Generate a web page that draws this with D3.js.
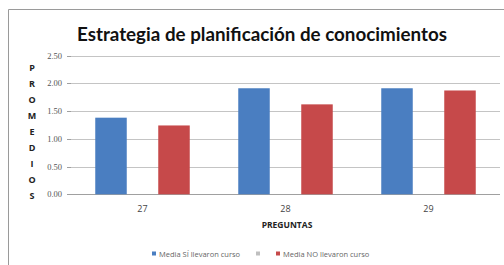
<!DOCTYPE html>
<html><head><meta charset="utf-8">
<script src="https://cdn.jsdelivr.net/npm/d3@7"></script>
<style>body{margin:0;background:#fff}svg{display:block}</style>
</head><body>
<svg id="c" width="504" height="265"></svg>
<script>
const categories = ["27", "28", "29"];
const seriesNames = ["Media SÍ llevaron curso", "", "Media NO llevaron curso"];
const siValues = [1.38, 1.91, 1.91];
const blankValues = [null, null, null];
const noValues = [1.24, 1.62, 1.87];
const yTicks = [0, 0.5, 1, 1.5, 2, 2.5];
const colors = ["#4A7EC1", "#BFBFBF", "#C6494A"];

(function () {
const svg = d3.select("#c");
svg.append("rect").attr("x", 0).attr("y", 0).attr("width", 504).attr("height", 265).attr("fill", "#fff");
svg.append("path").attr("d", "M8.5,265 V9.5 H504").attr("fill", "none").attr("stroke", "#9a9a9a").attr("stroke-width", 1);

const pLeft = 71, pRight = 500, pTop = 55.5, pBottom = 194.3;
const x0 = d3.scaleBand().domain(categories).range([pLeft, pRight]);
const x1 = d3.scaleBand().domain([0, 1, 2]).range([0, x0.bandwidth()]).paddingOuter(0.77).paddingInner(0);
const y = d3.scaleLinear().domain([0, 2.5]).range([pBottom, pTop]);

// gridlines
svg.append("g").selectAll("line").data(yTicks).join("line")
  .attr("x1", pLeft).attr("x2", pRight)
  .attr("y1", d => Math.round(y(d)) + 0.5).attr("y2", d => Math.round(y(d)) + 0.5)
  .attr("stroke", d => d === 0 ? "#a0a0a0" : "#c4c4c4").attr("stroke-width", 1);

// y tick labels
svg.append("g").selectAll("text").data(yTicks).join("text")
  .attr("x", 62).attr("y", d => y(d) + 3)
  .attr("text-anchor", "end")
  .attr("font-family", "Liberation Serif, serif").attr("font-size", 8.5).attr("fill", "#555")
  .text(d3.format(".2f"));
svg.append("g").selectAll("line").data(yTicks).join("line")
  .attr("x1", 67).attr("x2", pLeft)
  .attr("y1", d => Math.round(y(d)) + 0.5).attr("y2", d => Math.round(y(d)) + 0.5)
  .attr("stroke", "#a0a0a0");

// bars
const series = [siValues, blankValues, noValues];
categories.forEach((c, i) => {
  series.forEach((vals, s) => {
    const v = vals[i];
    if (v == null) return;
    svg.append("rect")
      .attr("x", x0(c) + x1(s)).attr("width", x1.bandwidth())
      .attr("y", y(v)).attr("height", y(0) - y(v))
      .attr("fill", colors[s]);
  });
});

// x labels
svg.append("g").selectAll("text").data(categories).join("text")
  .attr("x", d => x0(d) + x0.bandwidth() / 2).attr("y", 212)
  .attr("text-anchor", "middle")
  .attr("font-family", "Open Sans, sans-serif").attr("font-size", 9).attr("fill", "#444")
  .text(d => d);

svg.append("text").attr("x", 287).attr("y", 228).attr("text-anchor", "middle")
  .attr("font-family", "Open Sans, sans-serif").attr("font-weight", "bold").attr("font-size", 8.5).attr("fill", "#222")
  .text("PREGUNTAS");

// y label stacked
const yLabel = "PROMEDIOS".split("");
svg.append("g").selectAll("text").data(yLabel).join("text")
  .attr("x", 32).attr("y", (d, i) => 71 + i * 16)
  .attr("text-anchor", "middle")
  .attr("font-family", "Open Sans, sans-serif").attr("font-weight", "bold").attr("font-size", 9).attr("fill", "#222")
  .text(d => d);

// title
svg.append("text").attr("x", 262).attr("y", 41).attr("text-anchor", "middle")
  .attr("font-family", "Lato, sans-serif").attr("font-weight", "bold").attr("font-size", 19).attr("fill", "#111")
  .attr("textLength", 370).attr("lengthAdjust", "spacingAndGlyphs")
  .text("Estrategia de planificación de conocimientos");

// legend
const legendX = [152, 256, 276];
const lg = svg.append("g");
seriesNames.forEach((n, i) => {
  lg.append("rect").attr("x", legendX[i]).attr("y", 251.5).attr("width", 4).attr("height", 4).attr("fill", colors[i]);
  if (n) lg.append("text").attr("x", legendX[i] + 7).attr("y", 256.5)
    .attr("font-family", "Open Sans, sans-serif").attr("font-size", 7.5).attr("fill", "#666")
    .text(n);
});
})();
</script>
</body></html>
